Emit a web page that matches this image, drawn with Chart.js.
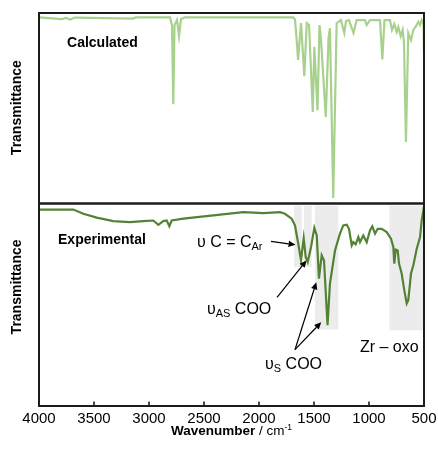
<!DOCTYPE html>
<html><head><meta charset="utf-8">
<script src="https://cdn.jsdelivr.net/npm/chart.js@4.4.1/dist/chart.umd.min.js"></script>
<style>html,body{margin:0;padding:0;background:#fff;}#wrap{width:438px;height:455px;position:relative;}</style>
</head><body><div id="wrap"><canvas id="c" width="438" height="455"></canvas></div>
<script>
// ---- data ----
const calcWavenumber = [4000,3791,3755,3718,3673,3145,3118,2809,2791,2779,2768,2745,2727,2709,2673,1691,1673,1655,1645,1618,1588,1566,1545,1511,1497,1468,1450,1436,1393,1368,1355,1325,1316,1294,1279,1255,1225,1209,1182,1141,1112,1036,1021,991,900,879,859,809,791,770,748,734,712,694,682,664,643,618,597,575,552,536,521,505,500];
const calcTransmittance = [97.7,96.8,97.4,96.6,97.6,97.1,97.7,97.7,93.7,52.1,93.7,96.3,87.9,96.8,97.7,97.7,96.7,84.2,75.3,94.7,66.8,94.7,93.7,48.1,82.3,48.9,93.7,85.8,45.4,86.8,92.1,2.9,30.5,94.6,95.4,96.3,89.5,95.8,96.3,89.5,96.3,96.3,93.7,96.3,96.3,75.6,96.3,96.3,91.1,94.2,90,92.6,87.9,91.1,84.2,32.3,89.5,85.8,91.1,92.8,95.4,93.7,96.3,94.2,79.5];
const expWavenumber = [4000,3703,3688,3597,3475,3325,3173,3052,2961,2915,2870,2839,2815,2794,2688,2415,2143,1961,1809,1764,1703,1673,1643,1618,1594,1575,1557,1527,1497,1475,1455,1430,1409,1377,1355,1309,1264,1234,1203,1182,1157,1143,1121,1097,1082,1052,1021,991,970,945,921,885,839,800,779,770,757,739,727,703,679,657,643,618,597,566,536,521,506,500];
const expTransmittance = [97.0,97.0,97.0,94.9,93.0,91.3,90.8,91.3,91.6,89.5,91.3,91.6,88.8,91.6,92.5,94.1,95.7,95.2,95.7,94.9,92.5,89.2,80.1,71.9,82.9,73.5,71.1,78.5,88.0,84.2,62.9,74.4,71.9,39.9,60.4,76.8,85.1,89.2,89.5,87.5,79.3,80.9,79.8,83.4,80.9,84.2,80.9,86.7,88.7,85.1,87.5,87.5,85.9,82.6,78.5,70.3,77.2,76.8,70.3,65.4,57.1,50.6,52.2,65.4,69.5,77.7,83.4,91.6,96.6,98.8];
const xTickValues = [4000,3500,3000,2500,2000,1500,1000,500];
const xTickLabels = ["4000","3500","3000","2500","2000","1500","1000","500"];
// shaded bands in the experimental panel: [from wavenumber, to wavenumber, lower transmittance]
const bandFrom = [1682,1591,1491,815];
const bandTo   = [1612,1521,1279,506];
const bandLow  = [68.6,68.6,37.8,37.4];
const bandHigh = 99;
// arrows in experimental panel
const arrowStartWn = [1891,1836,1673,1673];
const arrowStartT  = [81.3,53.7,27.8,27.8];
const arrowEndWn   = [1668,1568,1479,1434];
const arrowEndT    = [79.6,71.9,61.1,41.4];

const FONT = '"Liberation Sans", Arial, Helvetica, sans-serif';

function drawRich(ctx, x, y, parts){
  ctx.textAlign='left'; ctx.textBaseline='alphabetic';
  let cx = x;
  parts.forEach(p=>{ ctx.font = p.f; ctx.fillText(p.t, cx, y + (p.dy||0)); cx += ctx.measureText(p.t).width; });
}
function arrow(ctx, x1,y1,x2,y2){
  const a = Math.atan2(y2-y1, x2-x1), L=7, W=3.2;
  const bx = x2 - L*Math.cos(a), by = y2 - L*Math.sin(a);
  ctx.beginPath(); ctx.moveTo(x1,y1); ctx.lineTo(bx,by); ctx.stroke();
  ctx.beginPath(); ctx.moveTo(x2,y2);
  ctx.lineTo(bx + W*Math.sin(a), by - W*Math.cos(a));
  ctx.lineTo(bx - W*Math.sin(a), by + W*Math.cos(a));
  ctx.closePath(); ctx.fill();
}

const decor = {
  id:'decor',
  beforeDatasetsDraw(chart){
    const {ctx, scales:{x, yBot}} = chart;
    ctx.save(); ctx.fillStyle = '#ececec';
    bandFrom.forEach((a,i)=>{
      const x1 = x.getPixelForValue(a), x2 = x.getPixelForValue(bandTo[i]);
      const y1 = yBot.getPixelForValue(bandHigh), y2 = yBot.getPixelForValue(bandLow[i]);
      ctx.fillRect(Math.min(x1,x2), y1, Math.abs(x2-x1), y2-y1);
    });
    ctx.restore();
  },
  afterDatasetsDraw(chart){
    const {ctx, chartArea:ca, scales:{x, yTop, yBot}} = chart;
    ctx.save();
    ctx.strokeStyle = '#1c1c1c'; ctx.lineWidth = 2;
    ctx.strokeRect(ca.left, yTop.top, ca.right-ca.left, yTop.bottom-yTop.top);
    ctx.strokeRect(ca.left, yBot.top, ca.right-ca.left, yBot.bottom-yBot.top);
    ctx.lineWidth = 1.6;
    xTickValues.slice(1,-1).forEach(v=>{
      const px = Math.round(x.getPixelForValue(v));
      ctx.beginPath(); ctx.moveTo(px, yBot.bottom); ctx.lineTo(px, yBot.bottom-4.5); ctx.stroke();
    });
    ctx.fillStyle = '#000';
    drawRich(ctx, x.getPixelForValue(3745), yTop.getPixelForValue(82.1), [{t:'Calculated', f:'bold 14px '+FONT}]);
    drawRich(ctx, x.getPixelForValue(3827), yBot.getPixelForValue(79.8), [{t:'Experimental', f:'bold 14px '+FONT}]);
    const big = '16px '+FONT, sub = '11px '+FONT;
    drawRich(ctx, x.getPixelForValue(2564), yBot.getPixelForValue(78.5), [{t:'υ C = C', f:big},{t:'Ar', f:sub, dy:3}]);
    drawRich(ctx, x.getPixelForValue(2473), yBot.getPixelForValue(45.3), [{t:'υ', f:big},{t:'AS', f:sub, dy:3},{t:' COO', f:big}]);
    drawRich(ctx, x.getPixelForValue(1945), yBot.getPixelForValue(18.1), [{t:'υ', f:big},{t:'S', f:sub, dy:3},{t:' COO', f:big}]);
    drawRich(ctx, x.getPixelForValue(1082), yBot.getPixelForValue(26.7), [{t:'Zr – oxo', f:big}]);
    ctx.strokeStyle = '#000'; ctx.lineWidth = 1.2;
    arrowStartWn.forEach((w,i)=>{
      arrow(ctx, x.getPixelForValue(w), yBot.getPixelForValue(arrowStartT[i]), x.getPixelForValue(arrowEndWn[i]), yBot.getPixelForValue(arrowEndT[i]));
    });
    ctx.font = 'bold 14px '+FONT; ctx.textAlign='center'; ctx.textBaseline='middle';
    [[yTop, 50.3],[yBot, 58.8]].forEach(([s,v])=>{
      ctx.save(); ctx.translate(ca.left-22, s.getPixelForValue(v)); ctx.rotate(-Math.PI/2);
      ctx.fillText('Transmittance', 0, 0); ctx.restore();
    });
    const parts = [{t:'Wavenumber', f:'bold 13.5px '+FONT},{t:' / cm', f:'13.5px '+FONT},{t:'-1', f:'8.5px '+FONT, dy:-5}];
    let w = 0; parts.forEach(p=>{ctx.font=p.f; w+=ctx.measureText(p.t).width;});
    drawRich(ctx, (ca.left+ca.right)/2 - w/2, yBot.bottom + 29, parts);
    ctx.restore();
  }
};

const calcPoints = calcWavenumber.map((w,i)=>({x:w, y:calcTransmittance[i]}));
const expPoints = expWavenumber.map((w,i)=>({x:w, y:expTransmittance[i]}));

new Chart(document.getElementById('c'), {
  type:'line',
  data:{ datasets:[
    {label:'Calculated', data:calcPoints, xAxisID:'x', yAxisID:'yTop', borderColor:'#a9d18e', borderWidth:2.2, pointRadius:0, tension:0, fill:false},
    {label:'Experimental', data:expPoints, xAxisID:'x', yAxisID:'yBot', borderColor:'#548235', borderWidth:2.2, pointRadius:0, tension:0, fill:false}
  ]},
  options:{
    responsive:false, animation:false, devicePixelRatio:1,
    layout:{padding:{left:39, right:14, top:13, bottom:0}},
    plugins:{legend:{display:false}, tooltip:{enabled:false}},
    scales:{
      x:{type:'linear', reverse:true, min:500, max:4000,
         afterBuildTicks: s => { s.ticks = xTickValues.map(v=>({value:v})); },
         ticks:{autoSkip:false, maxRotation:0, padding:-4, color:'#000', font:{family:FONT, size:15},
                callback:(v)=> xTickLabels[xTickValues.indexOf(v)] },
         grid:{display:false}, border:{display:false},
         afterFit: s => { s.height = 49; s.paddingLeft = 0; s.paddingRight = 0; }},
      yBot:{type:'linear', position:'left', stack:'ir', stackWeight:202.5, min:0, max:100,
         ticks:{display:false}, grid:{display:false}, border:{display:false}, afterFit: s=>{ s.width = 0; }},
      yTop:{type:'linear', position:'left', stack:'ir', stackWeight:190.5, min:0, max:100,
         ticks:{display:false}, grid:{display:false}, border:{display:false}, afterFit: s=>{ s.width = 0; }}
    }
  },
  plugins:[decor]
});
</script></body></html>
